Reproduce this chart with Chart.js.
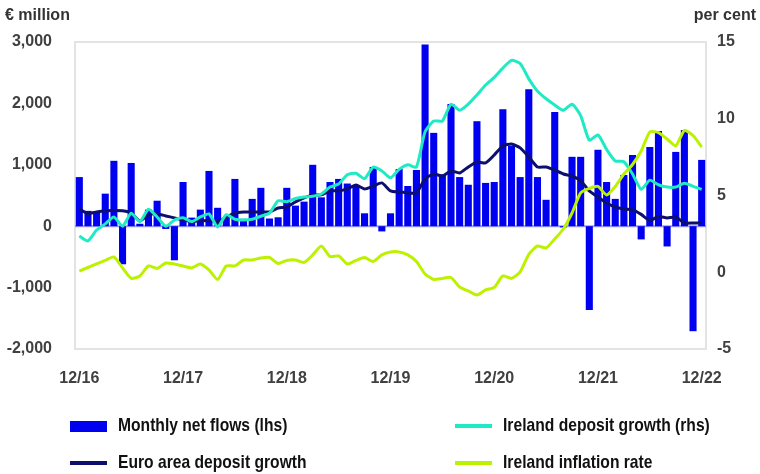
<!DOCTYPE html>
<html>
<head>
<meta charset="utf-8">
<script src="https://cdn.jsdelivr.net/npm/chart.js@4.4.1/dist/chart.umd.min.js"></script>
<style>
    html, body { margin: 0; padding: 0; background: #fff; }
    #wrap { position: relative; width: 760px; height: 474px; overflow: hidden; }
    #legend { position: absolute; left: 0; top: 0; width: 760px; height: 474px; pointer-events: none;
              font-family: "Liberation Sans Narrow", "Arial Narrow", sans-serif; font-weight: bold; font-size: 17px; color: #111; }
    .item { position: absolute; display: flex; align-items: center; white-space: nowrap; }
    .swatch { display: inline-block; width: 37px; margin-right: 11px; }
    .txt { display: inline-block; transform: scale(0.92, 1.08); transform-origin: left center; }
</style>
</head>
<body>
<div id="wrap">
    <canvas id="depositChart" width="760" height="474"></canvas>
    <div id="legend"></div>
</div>
<script>
// Monthly data, 12/16 .. 12/22
const tickLabels = ["12/16", "12/17", "12/18", "12/19", "12/20", "12/21", "12/22"];

// € million (lhs)
const netFlows = [
    800, 250, 220, 530, 1065, -620, 1030, 40, 270, 415,
    -45, -555, 720, 140, 270, 900, 300, 150, 770, 120,
    445, 625, 125, 145, 625, 335, 400, 1000, 470, 720,
    770, 695, 670, 210, 965, -85, 210, 930, 655, 915,
    2960, 1520, 845, 1990, 800, 675, 1710, 705, 720, 1905,
    1310, 800, 2230, 800, 430, 1860, -20, 1130, 1130, -1365,
    1245, 720, 445, 835, 1160, -215, 1290, 1550, -330, 1210,
    1565, -1710, 1080
];

// per cent (rhs)
const irelandDepositGrowth = [
    2.36, 2.04, 2.75, 3.15, 3.6, 3.0, 3.85, 3.3, 4.1, 3.6,
    3.0, 3.4, 3.55, 3.3, 3.6, 3.8, 2.95, 3.75, 3.45, 3.4,
    3.45, 3.65, 3.85, 4.65, 4.6, 4.8, 4.9, 4.95, 5.1, 5.55,
    5.75, 6.35, 6.45, 6.1, 6.85, 6.6, 6.15, 6.7, 7.0, 6.85,
    9.15, 9.85, 9.85, 10.95, 10.55, 10.95, 11.55, 12.2, 12.7, 13.3,
    13.8, 13.6, 12.6, 11.8, 11.3, 10.9, 10.55, 10.95, 10.2, 8.6,
    8.95, 8.0, 7.25, 7.2, 6.4, 5.4, 6.0, 5.7, 5.55, 5.55,
    5.8, 5.6, 5.4
];

const euroAreaDepositGrowth = [
    4.12, 3.83, 3.93, 4.0, 4.03, 4.0, 3.86, 3.34, 3.73, 3.8,
    3.67, 3.54, 3.4, 3.31, 3.34, 3.37, 3.28, 3.57, 3.86, 3.93,
    3.93, 3.93, 3.93, 4.19, 4.25, 4.58, 4.84, 5.04, 5.04, 5.3,
    5.3, 5.43, 5.69, 5.43, 5.62, 5.82, 5.3, 5.23, 5.17, 5.17,
    6.08, 6.4, 6.27, 6.6, 6.47, 6.86, 7.19, 7.12, 7.64, 8.23,
    8.36, 8.1, 7.51, 6.86, 6.86, 6.66, 6.4, 6.27, 5.95, 5.3,
    4.9, 4.51, 4.25, 4.12, 4.06, 3.77, 3.37, 3.63, 3.54, 3.6,
    3.21, 3.21, 3.24
];

const irelandInflation = [
    0.08, 0.31, 0.54, 0.77, 1.0, 0.28, -0.4, -0.24, 0.41, 0.25,
    0.6, 0.54, 0.41, 0.28, 0.54, 0.15, -0.47, 0.41, 0.41, 0.8,
    0.8, 0.93, 0.96, 0.57, 0.77, 0.8, 0.64, 1.13, 1.71, 1.03,
    1.06, 0.54, 0.77, 0.96, 0.7, 1.13, 1.32, 1.32, 1.13, 0.7,
    -0.11, -0.47, -0.4, -0.34, -0.96, -1.22, -1.48, -1.15, -0.99, -0.24,
    -0.4, 0.02, 1.16, 1.71, 1.58, 2.17, 2.82, 3.86, 5.17, 5.46,
    5.59, 5.04, 5.59, 6.4, 7.02, 7.9, 9.14, 9.1, 8.68, 8.23,
    9.24, 8.91, 8.16
];

// one category per month, only December gets a visible label
const months = netFlows.map((v, i) => (i % 12 === 0) ? tickLabels[i / 12] : "");

const FONT = "'Liberation Sans Narrow', 'Arial Narrow', sans-serif";
const tickColor = "#404040";

// frame around the plot + the two axis titles
const framePlugin = {
    id: "frame",
    beforeDatasetsDraw(chart) {
        const a = chart.chartArea;
        const ctx = chart.ctx;
        ctx.save();
        ctx.strokeStyle = "#e3e3e3";
        ctx.lineWidth = 2;
        ctx.strokeRect(a.left, a.top, a.right - a.left, a.bottom - a.top);
        // zero line (lhs)
        const y0 = chart.scales.y.getPixelForValue(0);
        ctx.strokeStyle = "#9c9cf2";
        ctx.lineWidth = 2;
        ctx.beginPath();
        ctx.moveTo(a.left, y0);
        ctx.lineTo(a.right, y0);
        ctx.stroke();
        ctx.restore();
    },
    afterDraw(chart) {
        const ctx = chart.ctx;
        ctx.save();
        ctx.font = "bold 16px " + FONT;
        ctx.fillStyle = "#333";
        ctx.textBaseline = "middle";
        ctx.textAlign = "left";
        ctx.fillText("€ million", 5, 16);
        ctx.textAlign = "right";
        ctx.fillText("per cent", 756, 16);
        ctx.restore();
    }
};

const datasets = [
    { type: "bar", label: "Monthly net flows (lhs)", data: netFlows, yAxisID: "y",
      backgroundColor: "#0000f0", barPercentage: 0.82, categoryPercentage: 1.0, order: 10 },
    { type: "line", label: "Ireland deposit growth (rhs)", data: irelandDepositGrowth, yAxisID: "y1",
      borderColor: "#1eeac4", borderWidth: 3, pointRadius: 0, tension: 0.2, order: 2 },
    { type: "line", label: "Euro area deposit growth", data: euroAreaDepositGrowth, yAxisID: "y1",
      borderColor: "#0c0f6e", borderWidth: 3, pointRadius: 0, tension: 0.2, order: 3 },
    { type: "line", label: "Ireland inflation rate", data: irelandInflation, yAxisID: "y1",
      borderColor: "#bcf200", borderWidth: 3, pointRadius: 0, tension: 0.2, order: 1 }
];

new Chart(document.getElementById("depositChart").getContext("2d"), {
    data: { labels: months, datasets: datasets },
    options: {
        responsive: false,
        animation: false,
        layout: { padding: { top: 42, bottom: 80, left: 0, right: 0 } },
        plugins: { legend: { display: false }, tooltip: { enabled: false } },
        scales: {
            x: {
                grid: { display: false },
                border: { display: false },
                ticks: { autoSkip: false, maxRotation: 0, padding: 12, color: tickColor,
                         font: { family: FONT, size: 16, weight: "bold" } },
                afterFit(scale) { scale.height = 45; }
            },
            y: {
                position: "left",
                min: -2000, max: 3000,
                grid: { display: false },
                border: { display: false },
                ticks: { stepSize: 1000, padding: 15, color: tickColor,
                         font: { family: FONT, size: 16, weight: "bold" },
                         callback: v => v.toLocaleString("en-US") },
                afterFit(scale) { scale.width = 75; }
            },
            y1: {
                position: "right",
                min: -5, max: 15,
                grid: { display: false },
                border: { display: false },
                ticks: { stepSize: 5, padding: 3, color: tickColor,
                         font: { family: FONT, size: 16, weight: "bold" } },
                afterFit(scale) { scale.width = 54; }
            }
        }
    },
    plugins: [framePlugin]
});

// legend laid out in two columns like the original
const legendPos = [[70, 426], [455, 426], [70, 463], [455, 463]];
const legendEl = document.getElementById("legend");
datasets.forEach((ds, k) => {
    const item = document.createElement("div");
    item.className = "item";
    item.style.left = legendPos[k][0] + "px";
    item.style.top = (legendPos[k][1] - 12) + "px";
    item.style.height = "24px";
    const sw = document.createElement("span");
    sw.className = "swatch";
    if (ds.type === "bar") {
        sw.style.height = "11px";
        sw.style.background = ds.backgroundColor;
    } else {
        sw.style.height = "4px";
        sw.style.background = ds.borderColor;
    }
    const tx = document.createElement("span");
    tx.className = "txt";
    tx.textContent = ds.label;
    item.appendChild(sw);
    item.appendChild(tx);
    legendEl.appendChild(item);
});
</script>
</body>
</html>
